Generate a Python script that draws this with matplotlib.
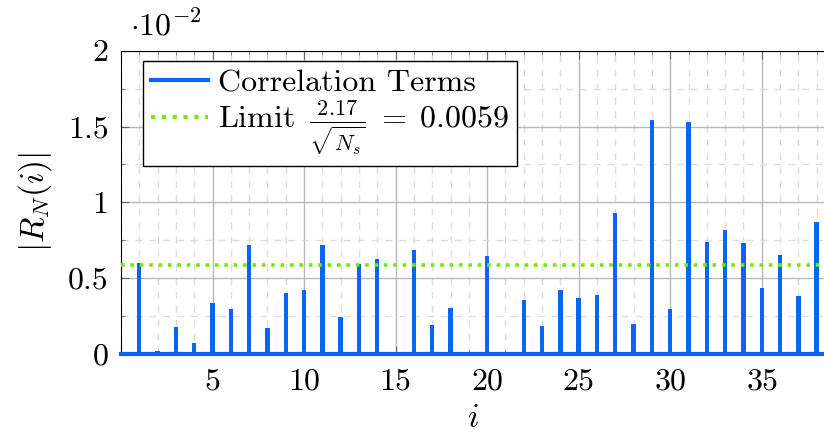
import numpy as np
import matplotlib
matplotlib.use('Agg')
import matplotlib.pyplot as plt
from matplotlib.ticker import MultipleLocator, FixedLocator

plt.rcParams['font.family'] = 'cmr10'
plt.rcParams['mathtext.fontset'] = 'cm'
plt.rcParams['axes.formatter.use_mathtext'] = True

# Datos (en unidades de 1e-2)
indices = list(range(1, 39))
valores = [0.598, 0.020, 0.178, 0.073, 0.336, 0.297, 0.716, 0.171, 0.400, 0.422,
           0.719, 0.244, 0.593, 0.624, 0.0, 0.684, 0.191, 0.305, 0.0, 0.644,
           0.0, 0.356, 0.185, 0.422, 0.369, 0.389, 0.930, 0.200, 1.543, 0.297,
           1.530, 0.738, 0.815, 0.732, 0.435, 0.653, 0.382, 0.870]
limite = 0.59
xticks = [5, 10, 15, 20, 25, 30, 35]
yticks = [0, 0.5, 1, 1.5, 2]
ytick_labels = ['0', '0.5', '1', '1.5', '2']

azul = '#0a64f5'
verde = '#74ea00'

fig = plt.figure(figsize=(8.24, 4.32), dpi=100)
ax = fig.add_axes([0.1468, 0.1806, 0.8532, 0.702])

ax.bar(indices, valores, width=0.24, color=azul, zorder=3)
ax.axhline(0, color=azul, lw=3, zorder=4, clip_on=False)
ax.axhline(limite, color=verde, lw=2.6, ls=(0, (1, 1.6)), zorder=5)

ax.set_xlim(0, 38.4)
ax.set_ylim(0, 2)

ax.xaxis.set_major_locator(FixedLocator(xticks))
ax.xaxis.set_minor_locator(MultipleLocator(1))
ax.set_yticks(yticks)
ax.set_yticklabels(ytick_labels)
ax.yaxis.set_minor_locator(MultipleLocator(0.25))

ax.grid(which='major', color='#b8b8b8', lw=1.0, zorder=0)
ax.grid(which='minor', color='#dcdcdc', lw=1.0, ls=(0, (5, 5)), zorder=0)
ax.set_axisbelow(True)

ax.tick_params(which='both', direction='in', labelsize=23, color='#666666', top=True)
ax.tick_params(which='major', length=6)
ax.tick_params(axis='y', which='major', pad=9)
ax.tick_params(axis='x', which='major', pad=10)
ax.tick_params(which='minor', length=3)
ax.spines['right'].set_visible(False)

ax.set_xlabel(r'$i$', fontsize=24, labelpad=6)
ax.set_ylabel(r'$|R_N(i)|$', fontsize=24, labelpad=10)
ax.text(0.013, 1.03, r'$\cdot 10^{-2}$', transform=ax.transAxes, fontsize=23, ha='left', va='bottom')

ax.plot([], [], color=azul, lw=3, label='Correlation Terms')
ax.plot([], [], color=verde, lw=3, ls=(0, (1, 1.6)),
        label=r'Limit $\,\frac{2.17}{\sqrt{N_s}}\;=\;0.0059$')
leg = ax.legend(loc='upper left', bbox_to_anchor=(0.031, 0.967), fontsize=23,
                fancybox=False, framealpha=1, edgecolor='black', borderaxespad=0,
                handlelength=1.8, handletextpad=0.3, labelspacing=0.05, borderpad=0.25)
leg.get_frame().set_linewidth(1.0)
leg.set_zorder(10)

fig.savefig('out.png', dpi=100)
